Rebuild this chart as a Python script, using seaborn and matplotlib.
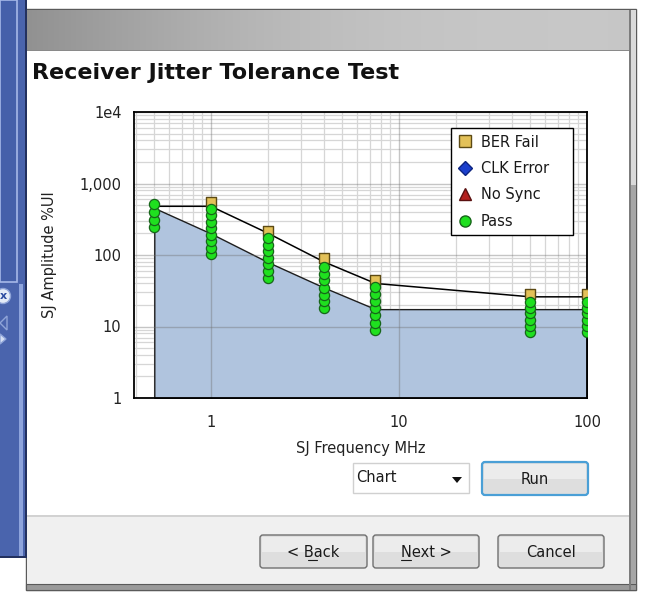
import matplotlib
matplotlib.use("Agg")
from matplotlib import pyplot as plt
from matplotlib.patches import Rectangle, FancyBboxPatch, Circle, Polygon
from matplotlib.lines import Line2D
from matplotlib.ticker import LogLocator, NullFormatter
import numpy as np
import pandas as pd
import seaborn as sns

# values
freqs = [0.5, 1, 2, 4, 7.5, 50, 100]
mask_upper = [480, 480, 203, 80, 40, 26, 26]
mask_lower = [455, 200, 80, 35, 17.5, 17.5, 17.5]

ber_freq = [1, 2, 4, 7.5, 50, 100]
ber_amp = [550, 218, 91, 45, 28.5, 28.5]

pass_f05 = [250, 310, 395, 510]
pass_f1 = [102, 126, 155, 191, 236, 291, 359, 447]
pass_f2 = [48, 60, 74, 91, 113, 140, 173]
pass_f4 = [18, 22.5, 28, 35, 44, 55, 68]
pass_f75 = [9, 11.3, 14.3, 18, 22.7, 28.6, 36]
pass_f50 = [8.5, 10.3, 12.5, 15.2, 18.4, 22.3]
pass_f100 = [8.5, 10.3, 12.5, 15.2, 18.4, 22.3]

x_ticks = [1, 10, 100]
x_labels = ["1", "10", "100"]
y_ticks = [1, 10, 100, 1000, 10000]
y_labels = ["1", "10", "100", "1,000", "1e4"]
legend_labels = ["BER Fail", "CLK Error", "No Sync", "Pass"]

sns.set_style("white")
plt.rcParams["font.family"] = ["DejaVu Sans"]

W, H = 649, 593
fig = plt.figure(figsize=(W / 100, H / 100), dpi=100)

# ---- dialog chrome, drawn in pixel coords ----
bg = fig.add_axes([0, 0, 1, 1])
bg.set_xlim(0, W)
bg.set_ylim(H, 0)
bg.axis("off")


def box(x0, y0, x1, y1, fc, ec="none", lw=0, z=1):
    bg.add_patch(Rectangle((x0, y0), x1 - x0, y1 - y0, fc=fc, ec=ec, lw=lw, zorder=z))


def button(x0, y0, x1, y1, label, ec="#707070", lw=1, under=None):
    bg.add_patch(FancyBboxPatch((x0, y0), x1 - x0, y1 - y0,
                                boxstyle="round,pad=0,rounding_size=3",
                                fc="#dedede", ec=ec, lw=lw, zorder=3))
    box(x0 + 2, y0 + 2, x1 - 2, (y0 + y1) / 2, "#ececec", z=3.1)
    cx, cy = (x0 + x1) / 2, (y0 + y1) / 2
    bg.text(cx, cy + 1, label, ha="center", va="center", fontsize=10.5,
            color="#1a1a1a", zorder=4)
    if under is not None:
        bg.plot([cx + under[0], cx + under[1]], [cy + 8, cy + 8], color="#1a1a1a",
                lw=0.8, zorder=4)


# left blue panel
box(0, 0, 26, 558, "#4a64ad", z=1)
box(0, 0, 17, 282, "#4560aa", ec="#a6b8e8", lw=1.2, z=1.2)
box(19, 284, 23, 556, "#8ea4dc", z=1.2)
box(25, 0, 26.5, 558, "#23315f", z=1.3)
box(0, 556, 26.5, 558, "#23315f", z=1.3)
bg.add_patch(Circle((3, 296), 7.5, fc="#e4ebf7", ec="#8fa4d8", lw=1, zorder=1.5))
bg.text(3, 296, "x", ha="center", va="center", fontsize=8, color="#2a4aa0",
        fontweight="bold", zorder=1.6)
bg.add_patch(Polygon([[7, 316], [7, 330], [0, 323]], closed=True, fc="none",
                     ec="#8fa4d8", lw=1, zorder=1.5))
bg.add_patch(Polygon([[0, 334], [6, 339], [0, 344]], closed=True, fc="#d6e0f4",
                     ec="#8fa4d8", lw=1, zorder=1.5))

# window frame + header
box(26, 9, 636, 590, "#c4c4c4", ec="#5a5a5a", lw=1, z=1)
grad = np.linspace(0, 1, 256)
shade = 0.57 + 0.21 * grad + 0.07 * np.sin(grad * np.pi)
hdr = np.dstack([shade, shade, shade])[0][None, :, :]
bg.imshow(hdr, extent=(27, 635, 50, 10), aspect="auto", zorder=1.1,
          interpolation="bilinear")
bg.set_xlim(0, W)
bg.set_ylim(H, 0)
box(27, 49.5, 629, 51, "#8a8a8a", z=1.2)
box(27, 51, 629, 515, "white", z=1.2)
box(27, 515, 629, 584, "#f0f0f0", z=1.2)
box(27, 515, 629, 516.5, "#d2d2d2", z=1.3)
box(26, 584, 636, 590, "#9a9a9a", ec="#5a5a5a", lw=0.8, z=1.3)
box(629, 10, 631, 590, "#7c7c7c", z=1.3)
box(631, 10, 636, 185, "#dadada", z=1.3)
box(631, 185, 636, 584, "#a6a6a6", z=1.3)

# title
bg.text(32, 73, "Receiver Jitter Tolerance Test", fontsize=16, fontweight="bold",
        ha="left", va="center", color="#111111", zorder=3)

# combo + run
bg.add_patch(Rectangle((353, 463), 116, 30, fc="white", ec="#d0d0d0", lw=1, zorder=3))
bg.text(356, 477, "Chart", ha="left", va="center", fontsize=10.5, color="#1a1a1a",
        zorder=4)
bg.add_patch(Polygon([[452, 477], [462, 477], [457, 483]], closed=True,
                     fc="#111111", ec="none", zorder=4))
button(482, 462, 588, 495, "Run", ec="#4a9fd6", lw=1.6)

# bottom buttons
button(260, 535, 367, 568, "< Back", under=(-6, 3))
button(373, 535, 479, 568, "Next >", under=(-25, -15))
button(498, 535, 604, 568, "Cancel")

# ---- chart ----
L, R, T, B = 134, 587, 112, 398
ax = fig.add_axes([L / W, (H - B) / H, (R - L) / W, (B - T) / H])
ax.set_zorder(5)
ax.set_facecolor("white")
ax.set_xscale("log")
ax.set_yscale("log")
ax.set_xlim(0.39, 100)
ax.set_ylim(1, 1e4)

ax.xaxis.set_minor_locator(LogLocator(base=10, subs=(2, 3, 4, 5, 6, 7, 8, 9), numticks=20))
ax.yaxis.set_minor_locator(LogLocator(base=10, subs=(2, 3, 4, 5, 6, 7, 8, 9), numticks=20))
ax.xaxis.set_minor_formatter(NullFormatter())
ax.yaxis.set_minor_formatter(NullFormatter())
ax.set_xticks(x_ticks, labels=x_labels)
ax.set_yticks(y_ticks, labels=y_labels)
ax.set_axisbelow(True)
ax.grid(which="minor", color="#d6d6d6", lw=0.9)
ax.grid(which="major", visible=False)

# mask region
ax.fill_between(freqs, mask_lower, 1, facecolor="#b0c4de", edgecolor="#1e1e1e",
                lw=1, zorder=1)
for xv in ax.get_xticks():
    ax.axvline(xv, color="#707070", alpha=0.4, lw=1, zorder=1.2)
for yv in ax.get_yticks():
    ax.axhline(yv, color="#707070", alpha=0.4, lw=1, zorder=1.2)

sns.lineplot(x=freqs, y=mask_upper, color="black", lw=1.1, sort=False,
             estimator=None, ax=ax, zorder=2)

pass_df = pd.DataFrame({
    "freq": [0.5] * len(pass_f05) + [1] * len(pass_f1) + [2] * len(pass_f2)
    + [4] * len(pass_f4) + [7.5] * len(pass_f75) + [50] * len(pass_f50)
    + [100] * len(pass_f100),
    "amp": pass_f05 + pass_f1 + pass_f2 + pass_f4 + pass_f75 + pass_f50 + pass_f100,
})

sns.scatterplot(x=ber_freq, y=ber_amp, marker="s", s=60, color="#e3c158",
                edgecolor="#5c4a14", linewidth=1, ax=ax, zorder=3, legend=False)
sns.scatterplot(data=pass_df, x="freq", y="amp", marker="o", s=54, color="#1fe01f",
                edgecolor="#17661a", linewidth=0.9, ax=ax, zorder=4, legend=False)

handles = [
    Line2D([], [], ls="none", marker="s", ms=8, mfc="#e3c158", mec="#5c4a14", mew=1),
    Line2D([], [], ls="none", marker="D", ms=7, mfc="#1b3fcc", mec="#0d2480", mew=1),
    Line2D([], [], ls="none", marker="^", ms=8, mfc="#b3201e", mec="#5a1010", mew=1),
    Line2D([], [], ls="none", marker="o", ms=8, mfc="#1fe01f", mec="#17661a", mew=1),
]
leg = ax.legend(handles, legend_labels, loc="upper left",
                bbox_to_anchor=((451 - L) / (R - L), 0.3, (573 - 451) / (R - L),
                                (B - 128) / (B - T) - 0.3),
                mode="expand", borderaxespad=0, frameon=True, fancybox=False,
                edgecolor="black", framealpha=1, fontsize=10.5, handlelength=1.0,
                handletextpad=0.6, labelspacing=0.78, borderpad=0.45)
leg.get_frame().set_linewidth(1)
for t in leg.get_texts():
    t.set_color("#1a1a1a")

for s in ax.spines.values():
    s.set_color("black")
    s.set_linewidth(1.3)
ax.tick_params(which="major", direction="out", length=6, width=1, color="black",
               labelcolor="#222222", labelsize=10.5)
ax.tick_params(axis="x", which="major", pad=6)
ax.tick_params(axis="y", which="major", pad=3)
ax.tick_params(which="minor", length=0)
ax.set_xlabel("SJ Frequency MHz", fontsize=10.5, labelpad=8, color="#222222")
ax.set_ylabel("SJ Amplitude %UI", fontsize=10.5, labelpad=16, color="#222222")

fig.savefig("out.png", dpi=100)
